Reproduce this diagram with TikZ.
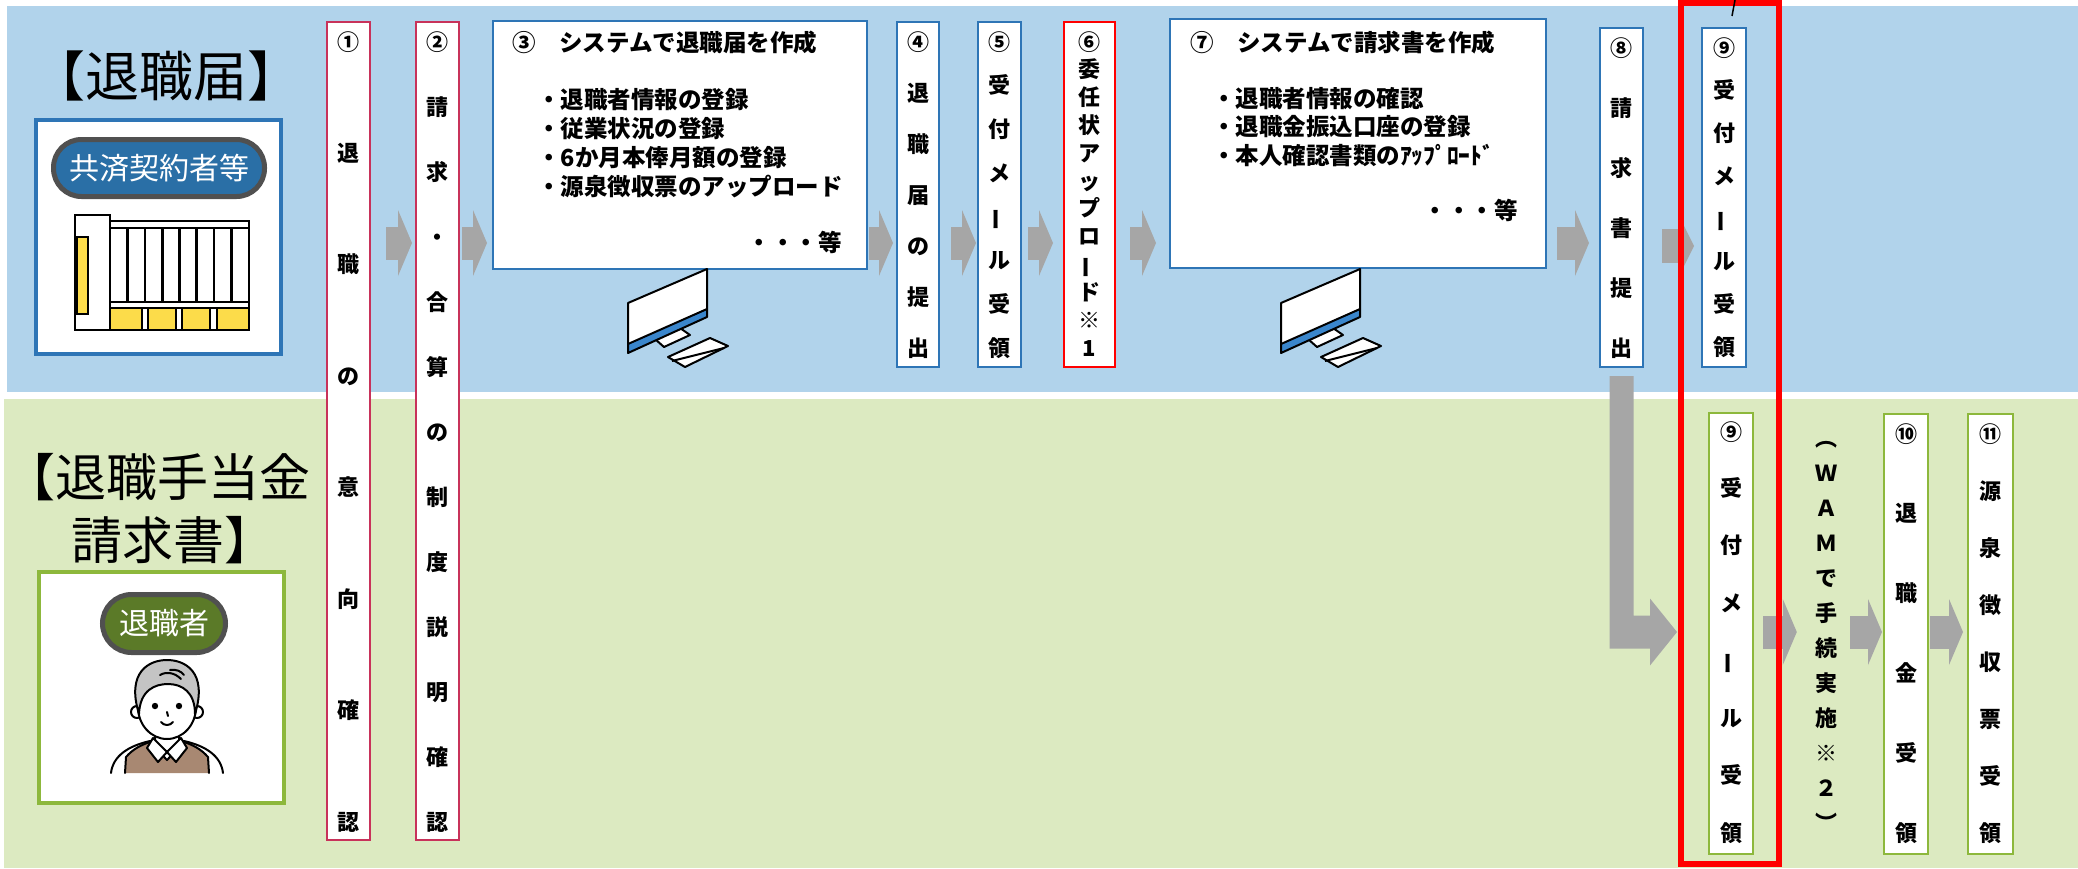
\documentclass[tikz,border=0pt]{standalone}
\usepackage{fontspec}
\setmainfont{Noto Sans CJK JP}
\usepackage{graphicx}
\usetikzlibrary{arrows.meta,calc}

\definecolor{bandblue}{HTML}{B1D3EB}
\definecolor{bandgreen}{HTML}{DCEAC1}
\definecolor{framecrimson}{HTML}{C8325A}
\definecolor{frameblue}{HTML}{2E75B6}
\definecolor{framegreen}{HTML}{8DB83C}
\definecolor{arrowgray}{HTML}{A6A6A6}
\definecolor{pillblue}{HTML}{2A6FA6}
\definecolor{pillgreen}{HTML}{5B7A28}
\definecolor{pillrim}{HTML}{505050}
\definecolor{bldyellow}{HTML}{FCDC4A}
\definecolor{hairgray}{HTML}{C4C4C4}
\definecolor{sweater}{HTML}{A88872}
\definecolor{screenblue}{HTML}{3A86CC}

% long vowel mark set upright for vertical columns
\newcommand{\vbar}{\rotatebox[origin=c]{90}{ー}}

% desktop computer icon, shifted horizontally by #1
\newcommand{\monitorpic}[1]{%
  \begin{scope}[shift={(#1,0)}, line width=2pt, line join=round]
    \draw[fill=white] (655,339) -- (680,328) -- (690,335) -- (664,347) -- cycle;
    \draw[fill=white] (668,357) -- (710,338) -- (728,346) -- (685,367) -- cycle;
    \draw (672,361) -- (724,348);
    \fill[white] (628,303) -- (707,269) -- (707,317) -- (628,353) -- cycle;
    \fill[screenblue] (628,353) -- (707,317) -- (707,309) -- (628,344) -- cycle;
    \draw (628,344) -- (707,309);
    \draw (628,303) -- (707,269) -- (707,317) -- (628,353) -- cycle;
  \end{scope}}

\begin{document}
\begin{tikzpicture}[x=1pt, y=-1pt,
  stepbox/.style={draw=#1, fill=white, line width=2pt, inner sep=0pt},
  vcol/.style={font=\bfseries\fontsize{22}{#1}\selectfont, align=center, inner sep=0pt},
  numlabel/.style={font=\bfseries\fontsize{22}{22}\selectfont, inner sep=0pt},
  boxtext/.style={font=\bfseries\fontsize{23.5}{28.8}\selectfont, align=left, inner sep=0pt},
  titletext/.style={font=\fontsize{#1}{#1}\selectfont, inner sep=0pt},
  pill/.style={fill=#1, draw=pillrim, line width=5pt, text=white,
    font=\fontsize{30}{30}\selectfont, inner sep=0pt},
  actorframe/.style={draw=#1, fill=white, line width=4pt, inner sep=0pt},
  barrow/.style={draw=arrowgray, line width=33pt,
    -{Triangle[length=14pt,width=66pt,line width=0pt]}},
]
\useasboundingbox (0,0) rectangle (2078,868);
\fill[white] (0,0) rectangle (2078,868);

% two lanes
\fill[bandblue] (7,6) rectangle (2078,392);
\fill[bandgreen] (4,399) rectangle (2078,868);

% lane titles
\node[titletext=54] (t1) at (166,76) {【退職届】};
\node[titletext=51] (t2a) at (158,477) {【退職手当金};
\node[titletext=51] (t2b) at (173.5,540) {請求書】};

% actor: contracting party
\node[actorframe=frameblue, minimum width=245, minimum height=234] (f1) at (158.5,237) {};
\node[pill=pillblue, minimum width=211, minimum height=57, rounded corners=28pt] (p1) at (159,168) {共済契約者等};
\begin{scope}[line width=2.5pt, line join=miter]
  \draw[fill=white] (75,215) -- (110,215) -- (110,221) -- (249,221) -- (249,330) -- (75,330) -- cycle;
  \draw (110,221) -- (110,330);
  \draw (110,228) -- (249,228);
  \foreach \xx in {127.3,145,162.7,179.3,196.7,214,231.7} \draw (\xx,228) -- (\xx,302);
  \draw (110,302) -- (249,302);
  \draw (110,308) -- (249,308);
  \foreach \xa/\xb in {110/142,148/176,182/210,217/249}
    \draw[fill=bldyellow] (\xa,308) rectangle (\xb,330);
  \draw[fill=bldyellow] (77,237) rectangle (88,314);
\end{scope}

% actor: retiree
\node[actorframe=framegreen, minimum width=245, minimum height=231] (f2) at (161.5,687.5) {};
\node[pill=pillgreen, minimum width=123, minimum height=58, rounded corners=29pt] (p2) at (164,623.5) {退職者};
\begin{scope}[line width=2pt, line join=round, line cap=round]
  \draw[fill=white] (111,773) .. controls (113,756) and (128,746) .. (150,741) -- (184,741) .. controls (206,746) and (221,756) .. (223,773);
  \draw[fill=sweater] (125,773) -- (126,757) .. controls (133,749) and (141,745) .. (150,742) -- (167,760) -- (184,742) .. controls (193,745) and (201,749) .. (208,757) -- (209,773);
  \draw[fill=white] (155,726) -- (155,742) -- (167,752) -- (179,742) -- (179,726);
  \draw[fill=white] (153,738) -- (147,748) -- (158,762) -- (167,752) -- cycle;
  \draw[fill=white] (181,738) -- (187,748) -- (176,762) -- (167,752) -- cycle;
  \draw[fill=white] (137,712) circle[radius=6];
  \draw[fill=white] (197,712) circle[radius=6];
  \draw[fill=white] (167,707) ellipse[x radius=29, y radius=32];
  \draw[fill=hairgray] (139,714) .. controls (126,672) and (149,660) .. (167,660)
    .. controls (185,660) and (208,672) .. (195,714)
    .. controls (195,692) and (182,684) .. (168,684)
    .. controls (155,684) and (140,690) .. (139,714) -- cycle;
  \draw (160,675) .. controls (167,671) and (175,673) .. (181,679);
  \draw (170,670) .. controls (176,669) and (181,671) .. (184,675);
  \fill (155,706) circle[radius=3.2];
  \fill (179,706) circle[radius=3.2];
  \draw (167,712) -- (168,716);
  \draw (161,722) .. controls (164,726) and (170,726) .. (173,722);
\end{scope}

% process steps
\node[stepbox=framecrimson, minimum width=43, minimum height=818] (s1) at (348.5,431) {};
\node[stepbox=framecrimson, minimum width=43, minimum height=818] (s2) at (437.5,431) {};
\node[stepbox=frameblue, minimum width=374, minimum height=248] (s3) at (680,145) {};
\node[stepbox=frameblue, minimum width=42, minimum height=345] (s4) at (918,194.5) {};
\node[stepbox=frameblue, minimum width=43, minimum height=345] (s5) at (999.5,194.5) {};
\node[stepbox=red, minimum width=51, minimum height=345] (s6) at (1089.5,194.5) {};
\node[stepbox=frameblue, minimum width=376, minimum height=249] (s7) at (1358,143.5) {};
\node[stepbox=frameblue, minimum width=43, minimum height=339] (s8) at (1621.5,197.5) {};
\node[stepbox=frameblue, minimum width=44, minimum height=339] (s9a) at (1724,197.5) {};
\node[stepbox=framegreen, minimum width=44, minimum height=441] (s9b) at (1731,633.5) {};
\node[stepbox=framegreen, minimum width=44, minimum height=440] (s10) at (1906,634) {};
\node[stepbox=framegreen, minimum width=45, minimum height=440] (s11) at (1990.5,634) {};

% step numbers
\node[numlabel] (n1) at (348.5,42) {①};
\node[numlabel] (n2) at (437.5,42) {②};
\node[numlabel] (n4) at (918,42) {④};
\node[numlabel] (n5) at (999.5,42) {⑤};
\node[numlabel] (n6) at (1089.5,42) {⑥};
\node[numlabel] (n8) at (1621.5,48) {⑧};
\node[numlabel] (n9a) at (1724,48) {⑨};
\node[numlabel] (n9b) at (1731,432) {⑨};
\node[numlabel] (n10) at (1906,434) {⑩};
\node[numlabel] (n11) at (1990.5,434) {⑪};

% vertical step texts
\node[vcol=111.5] (c1) at (348.5,487.5) {退\\職\\の\\意\\向\\確\\認};
\node[vcol=65] (c2) at (437.5,464.5) {請\\求\\・\\合\\算\\の\\制\\度\\説\\明\\確\\認};
\node[vcol=51] (c4) at (918,220.5) {退\\職\\届\\の\\提\\出};
\node[vcol=43.8] (c5) at (999.5,216.5) {受\\付\\メ\\\vbar\\ル\\受\\領};
\node[vcol=27.9] (c6) at (1089.5,207.5) {委\\任\\状\\ア\\ッ\\プ\\ロ\\\vbar\\ド\\※\\1};
\node[vcol=60] (c8) at (1621.5,228) {請\\求\\書\\提\\出};
\node[vcol=42.8] (c9a) at (1724,218.5) {受\\付\\メ\\\vbar\\ル\\受\\領};
\node[vcol=57.5] (c9b) at (1731,660.5) {受\\付\\メ\\\vbar\\ル\\受\\領};
\node[vcol=35] (wam) at (1826,636.5) {︵\\Ｗ\\Ａ\\Ｍ\\で\\手\\続\\実\\施\\※\\２\\︶};
\node[vcol=80] (c10) at (1906,673) {退\\職\\金\\受\\領};
\node[vcol=57] (c11) at (1990.5,662) {源\\泉\\徴\\収\\票\\受\\領};

% system input boxes
\node[boxtext] (s3n) at (524,43) {③};
\node[boxtext, anchor=west] (s3h) at (559,43) {システムで退職届を作成};
\node[boxtext, anchor=west] (s3b) at (537,143) {・退職者情報の登録\\・従業状況の登録\\・6か月本俸月額の登録\\・源泉徴収票のアップロード};
\node[boxtext, anchor=east] (s3e) at (842,242) {・・・等};
\node[boxtext] (s7n) at (1202,43) {⑦};
\node[boxtext, anchor=west] (s7h) at (1237,43) {システムで請求書を作成};
\node[boxtext, anchor=west] (s7b) at (1212,127) {・退職者情報の確認\\・退職金振込口座の登録\\・本人確認書類のｱｯﾌﾟﾛｰﾄﾞ};
\node[boxtext, anchor=east] (s7e) at (1518,210) {・・・等};

\monitorpic{0}
\monitorpic{653}

% flow arrows, upper lane
\coordinate (arow) at (0,243);
\coordinate (brow) at (0,632);
\draw[barrow] ($(s1.east |- arow)+(15,0)$) -- ($(s2.west |- arow)+(-3,0)$);
\draw[barrow] ($(s2.east |- arow)+(2,0)$) -- ($(s3.west |- arow)+(-5,0)$);
\draw[barrow] ($(s3.east |- arow)+(1,0)$) -- ($(s4.west |- arow)+(-3,0)$);
\draw[barrow] ($(s4.east |- arow)+(11,0)$) -- ($(s5.west |- arow)+(-1,0)$);
\draw[barrow] ($(s5.east |- arow)+(6,0)$) -- ($(s6.west |- arow)+(-10,0)$);
\draw[barrow] ($(s6.east |- arow)+(14,0)$) -- ($(s7.west |- arow)+(-13,0)$);
\draw[barrow] ($(s7.east |- arow)+(10,0)$) -- ($(s8.west |- arow)+(-10,0)$);
\draw[draw=arrowgray, line width=34pt, -{Triangle[length=12pt,width=48pt,line width=0pt]}]
  ($(s8.east |- 0,246)+(18,0)$) -- ($(s9a.west |- 0,246)+(-7,0)$);

% request handed over to the lower lane
\fill[arrowgray] let \p1=($(s8.south)+(0,8)$), \p2=($(s9b.west |- brow)+(-31,0)$) in
  (\x1-12pt,\y1) -- (\x1+12pt,\y1) -- (\x1+12pt,\y2+16.5pt) -- (\x2-27pt,\y2+16.5pt)
  -- (\x2-27pt,\y2+33.5pt) -- (\x2,\y2) -- (\x2-27pt,\y2-33.5pt) -- (\x2-27pt,\y2-16.5pt)
  -- (\x1-12pt,\y2-16.5pt) -- cycle;

% flow arrows, lower lane
\draw[barrow] ($(s9b.east |- brow)+(9,0)$) -- ($(wam.west |- brow)+(-18,0)$);
\draw[barrow] ($(wam.east |- brow)+(13,0)$) -- ($(s10.west |- brow)+(-1,0)$);
\draw[barrow] ($(s10.east |- brow)+(1,0)$) -- ($(s11.west |- brow)+(-4,0)$);

% highlight around step 9
\draw[red, line width=6pt] (1681,3) rectangle (1779,864);
\draw[line width=1.5pt] (1735,0) -- (1732,16);
\end{tikzpicture}
\end{document}
